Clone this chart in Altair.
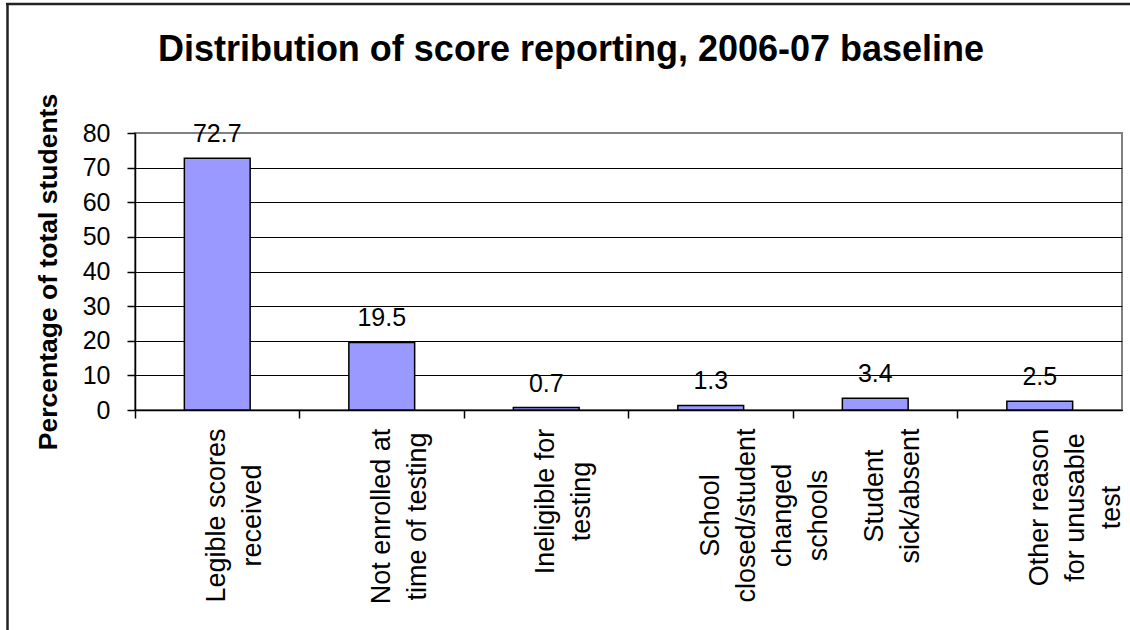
import altair as alt
import pandas as pd

# ---- data ----
categories = [
    "Legible scores|received",
    "Not enrolled at|time of testing",
    "Ineligible for|testing",
    "School|closed/student|changed|schools",
    "Student|sick/absent",
    "Other reason|for unusable|test",
]
values = [72.7, 19.5, 0.7, 1.3, 3.4, 2.5]
y_ticks = [0, 10, 20, 30, 40, 50, 60, 70, 80]
title_text = "Distribution of score reporting, 2006-07 baseline"
y_title = "Percentage of total students"

df = pd.DataFrame({"category": categories, "value": values})
one = pd.DataFrame({"k": [0]})

FONT = "Liberation Sans"

# per-label padding so that the top of each rotated label block sits just under the axis
label_pad = {
    categories[0]: 105,
    categories[1]: 106,
    categories[2]: 91,
    categories[3]: 105,
    categories[4]: 85.5,
    categories[5]: 97,
}
pad_cond = {
    "condition": [
        {"test": f"datum.value === '{c}'", "value": p} for c, p in label_pad.items()
    ],
    "value": 95,
}


def make_y_axis():
    return alt.Axis(
        values=y_ticks,
        grid=True,
        gridColor={"condition": {"test": "datum.value === 80", "value": "#808080"}, "value": "black"},
        gridWidth=1,
        domainColor="black",
        domainWidth=1.5,
        tickColor="black",
        tickSize=8,
        tickWidth=1.5,
        labelFont=FONT,
        labelFontSize=25,
        labelColor="black",
        labelPadding=17,
        labelOverlap=False,
        labelFlush=False,
        titleFont=FONT,
        titleFontSize=26.5,
        titleFontWeight="bold",
        titleColor="black",
        titlePadding=20,
    )


y_scale = alt.Scale(domain=[0, 80], nice=False, zero=True)

bars = alt.Chart(df).mark_bar(
    color="#9999FF", stroke="black", strokeWidth=1.5, width=alt.RelativeBandSize(0.4)
).encode(
    x=alt.X(
        "category:N",
        sort=categories,
        title=None,
        scale=alt.Scale(paddingInner=0, paddingOuter=0),
        axis=alt.Axis(
            orient="bottom",
            ticks=False,
            tickSize=0,
            grid=False,
            domain=True,
            domainColor="black",
            domainWidth=1.5,
            labelAngle=270,
            labelAlign="center",
            labelBaseline="middle",
            labelFont=FONT,
            labelFontSize=27,
            labelLineHeight=36,
            labelColor="black",
            labelPadding=pad_cond,
            labelExpr="split(datum.label, '|')",
            labelOverlap=False,
            labelLimit=0,
        ),
    ),
    y=alt.Y("value:Q", title=y_title, scale=y_scale, axis=make_y_axis()),
)

texts = alt.Chart(df).mark_text(
    dy=-16, baseline="alphabetic", align="center", fontSize=25, font=FONT, color="black"
).encode(
    x=alt.X(
        "category:N",
        sort=categories,
        title=None,
        axis=alt.Axis(
            orient="bottom",
            bandPosition=0,
            labels=False,
            ticks=True,
            tickSize=8,
            tickColor="black",
            tickWidth=1.5,
            domain=False,
            grid=False,
        ),
    ),
    y=alt.Y("value:Q", title=y_title, scale=y_scale, axis=make_y_axis()),
    text=alt.Text("value:Q", format=".1f"),
)

frame_left = alt.Chart(one).mark_rule(color="#222222", strokeWidth=2.5).encode(
    x=alt.value(-127.5), y=alt.value(-130), y2=alt.value(500)
)
frame_top = alt.Chart(one).mark_rule(color="#222222", strokeWidth=2.5).encode(
    x=alt.value(-129), x2=alt.value(1000), y=alt.value(-129)
)
title_mark = alt.Chart(one).mark_text(
    text=title_text,
    font=FONT,
    fontSize=36,
    fontWeight="bold",
    align="center",
    baseline="alphabetic",
    color="black",
).encode(x=alt.value(436), y=alt.value(-72))

chart = (
    alt.layer(bars, texts, frame_left, frame_top, title_mark)
    .resolve_axis(x="independent")
    .properties(
        width=987,
        height=277,
        autosize=alt.AutoSizeParams(type="none"),
        padding={"left": 135, "top": 133, "right": 8, "bottom": 220},
        background="white",
    )
    .configure_view(stroke="#808080", strokeWidth=2)
)

chart.save("out.html", embed_options={"renderer": "svg", "actions": False})
